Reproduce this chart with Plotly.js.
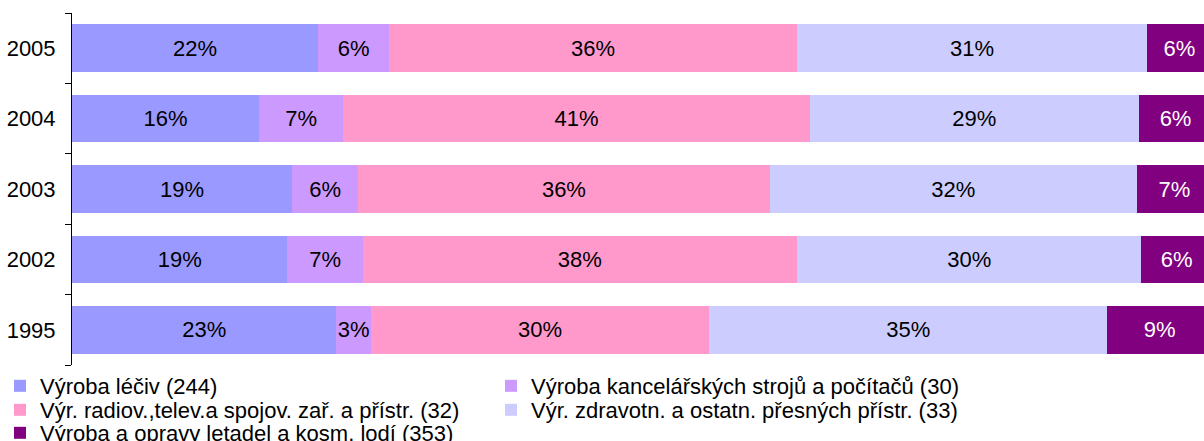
<!DOCTYPE html>
<html>
<head>
<meta charset="utf-8">
<script src="https://cdn.plot.ly/plotly-3.0.1.min.js"></script>
<style>
html,body{margin:0;padding:0;overflow:hidden;background:#fff;}
#chart{width:1214px;height:441px;}
</style>
</head>
<body>
<div id="chart"></div>
<script>
const years = ["1995", "2002", "2003", "2004", "2005"];
const seriesNames = [
  "Výroba léčiv (244)",
  "Výroba kancelářských strojů a počítačů (30)",
  "Výr. radiov.,telev.a spojov. zař. a přístr. (32)",
  "Výr. zdravotn. a ostatn. přesných přístr. (33)",
  "Výroba a opravy letadel a kosm. lodí (353)"
];
const lecivValues      = [23.2, 18.9, 19.3, 16.4, 21.6];
const kancelarValues   = [3.0, 6.6, 5.8, 7.4, 6.2];
const radioValues      = [29.7, 38.1, 36.1, 40.9, 35.8];
const zdravotnValues   = [34.9, 30.2, 32.2, 28.9, 30.7];
const letadlaValues    = [9.2, 6.2, 6.6, 6.4, 5.7];

const colors = ["#9999FF", "#CC99FF", "#FF99CC", "#CCCCFF", "#800080"];
const textColors = ["#000000", "#000000", "#000000", "#000000", "#FFFFFF"];
const allValues = [lecivValues, kancelarValues, radioValues, zdravotnValues, letadlaValues];
const legendIds = ["legend", "legend", "legend2", "legend2", "legend3"];

const FONT = "Liberation Sans, Arial, sans-serif";

const traces = allValues.map((vals, i) => ({
  type: "bar",
  orientation: "h",
  name: seriesNames[i],
  y: years,
  x: vals,
  marker: {color: colors[i], line: {width: 0}},
  texttemplate: "%{x:.0f}%",
  textposition: "inside",
  insidetextanchor: "middle",
  constraintext: "none",
  textangle: 0,
  insidetextfont: {family: FONT, size: 22, color: textColors[i]},
  legend: legendIds[i],
  hoverinfo: "none"
}));

const legendBase = {
  orientation: "h",
  xref: "container",
  yref: "container",
  x: 0,
  xanchor: "left",
  yanchor: "middle",
  entrywidth: 446,
  entrywidthmode: "pixels",
  font: {family: FONT, size: 22, color: "#000"},
  bgcolor: "rgba(0,0,0,0)",
  borderwidth: 0,
  traceorder: "normal",
  itemclick: false
};

const layout = {
  width: 1214,
  height: 441,
  margin: {l: 72, r: 2, t: 13, b: 74, pad: 0},
  barmode: "stack",
  bargap: 0.324,
  paper_bgcolor: "#fff",
  plot_bgcolor: "#fff",
  font: {family: FONT, size: 22, color: "#000"},
  showlegend: true,
  xaxis: {
    range: [0, 100],
    visible: false,
    showgrid: false,
    zeroline: false,
    fixedrange: true
  },
  yaxis: {
    type: "category",
    categoryorder: "array",
    categoryarray: years,
    showline: true,
    linecolor: "#000",
    linewidth: 1,
    ticks: "outside",
    tickson: "boundaries",
    ticklen: 6,
    tickwidth: 1,
    tickcolor: "#000",
    showgrid: false,
    zeroline: false,
    tickfont: {family: FONT, size: 22, color: "#000"},
    ticklabelstandoff: 11,
    fixedrange: true
  },
  legend:  Object.assign({}, legendBase, {y: 1 - 386/441}),
  legend2: Object.assign({}, legendBase, {y: 1 - 410/441}),
  legend3: Object.assign({}, legendBase, {y: 1 - 433/441})
};

Plotly.newPlot("chart", traces, layout, {displayModeBar: false, staticPlot: true});
</script>
</body>
</html>
